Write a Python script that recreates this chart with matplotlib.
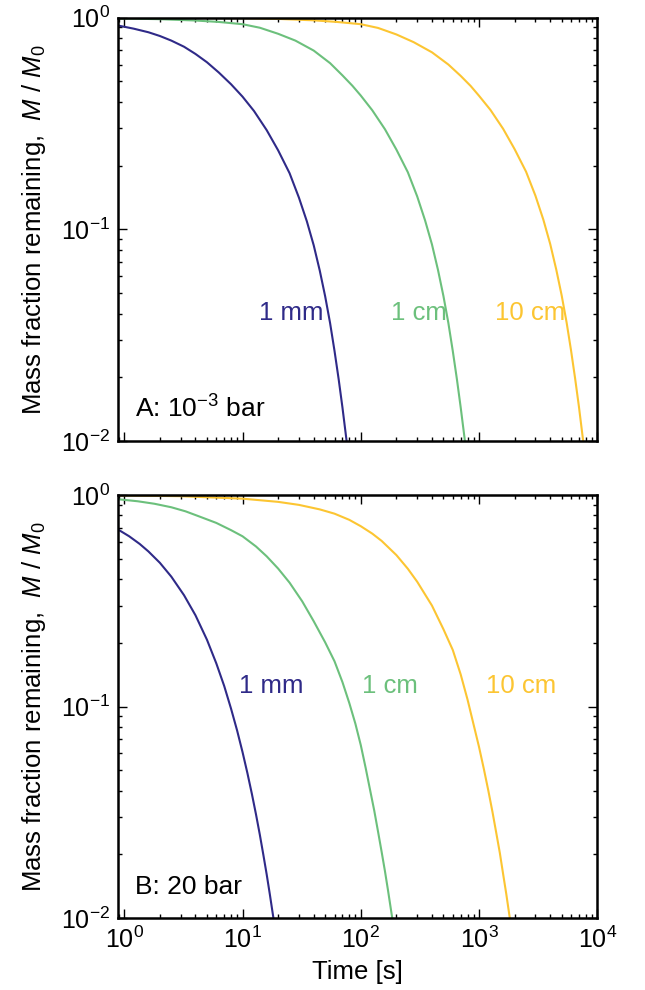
import numpy as np
import matplotlib
matplotlib.use("Agg")
import matplotlib.pyplot as plt

plt.rcParams["font.family"] = ["Liberation Sans", "DejaVu Sans"]
plt.rcParams["mathtext.fontset"] = "custom"
plt.rcParams["mathtext.rm"] = "Liberation Sans"
plt.rcParams["mathtext.it"] = "Liberation Sans:italic"
plt.rcParams["mathtext.bf"] = "Liberation Sans:bold"

BLUE = "#2f2a88"
GREEN = "#6cc07c"
YELLOW = "#fcc532"

# panel A: 1e-3 bar
t_a_mm = [0.9, 1.2, 1.6, 2.0, 2.5, 3.2, 4.0, 5.0, 6.3, 8.0, 10.0, 12.5, 16.0, 20.0, 25.0,
          30.0, 35.0, 40.0, 45.0, 50.0, 55.0, 60.0, 65.0, 70.0, 75.9]
m_a_mm = [0.915, 0.886, 0.852, 0.818, 0.778, 0.728, 0.673, 0.615, 0.550, 0.484, 0.423, 0.362,
          0.294, 0.236, 0.184, 0.141, 0.109, 0.0840, 0.0638, 0.0482, 0.0361, 0.0266, 0.0196,
          0.0144, 0.0100]

t_a_cm = [0.9, 2.0, 4.0, 6.3, 10.0, 14.0, 20.0, 28.0, 40.0, 55.0, 70.0, 85.0, 100.0, 125.0,
          160.0, 200.0, 250.0, 300.0, 350.0, 400.0, 450.0, 500.0, 550.0, 600.0, 650.0, 700.0, 760.0]
m_a_cm = [0.991, 0.982, 0.968, 0.953, 0.930, 0.895, 0.838, 0.778, 0.698, 0.609, 0.533, 0.476,
          0.428, 0.365, 0.297, 0.238, 0.186, 0.143, 0.110, 0.0848, 0.0642, 0.0484, 0.0362,
          0.0266, 0.0196, 0.0144, 0.0100]

t_a_10cm = [0.9, 10.0, 20.0, 40.0, 63.0, 100.0, 140.0, 200.0, 280.0, 400.0, 550.0, 700.0, 850.0,
            1000.0, 1250.0, 1600.0, 2000.0, 2500.0, 3000.0, 3500.0, 4000.0, 4500.0, 5000.0,
            5500.0, 6000.0, 6500.0, 7000.0, 7600.0]
m_a_10cm = [0.999, 0.993, 0.985, 0.970, 0.953, 0.930, 0.893, 0.832, 0.765, 0.685, 0.600, 0.530,
            0.475, 0.427, 0.366, 0.298, 0.239, 0.187, 0.144, 0.111, 0.0852, 0.0645, 0.0487,
            0.0364, 0.0268, 0.0197, 0.0145, 0.0100]

# panel B: 20 bar
t_b_mm = [0.9, 1.1, 1.35, 1.6, 2.0, 2.5, 3.2, 4.0, 5.0, 6.0, 7.0, 8.0, 9.0, 10.0, 11.0, 12.0,
          13.0, 14.0, 15.0, 16.0, 17.0, 18.2]
m_b_mm = [0.683, 0.638, 0.587, 0.541, 0.478, 0.411, 0.336, 0.270, 0.207, 0.160, 0.125, 0.0976,
          0.0770, 0.0609, 0.0484, 0.0386, 0.0309, 0.0248, 0.0199, 0.0161, 0.0130, 0.0101]

t_b_cm = [0.9, 1.3, 1.8, 2.5, 3.3, 4.35, 6.0, 8.0, 10.0, 13.0, 16.0, 20.0, 25.0, 32.0, 40.0,
          50.0, 60.0, 70.0, 80.0, 90.0, 100.0, 110.0, 120.0, 130.0, 140.0, 150.0, 160.0, 170.0,
          184.5]
m_b_cm = [0.954, 0.934, 0.909, 0.875, 0.837, 0.790, 0.738, 0.682, 0.638, 0.571, 0.513, 0.449,
          0.385, 0.314, 0.253, 0.201, 0.1635, 0.1304, 0.1038, 0.0830, 0.0657, 0.0512, 0.0402,
          0.0322, 0.0256, 0.0206, 0.0167, 0.0135, 0.0100]

t_b_10cm = [0.9, 3.0, 10.0, 20.0, 30.0, 45.0, 60.0, 80.0, 100.0, 125.0, 150.0, 200.0, 250.0,
            300.0, 400.0, 500.0, 600.0, 700.0, 800.0, 900.0, 1000.0, 1100.0, 1200.0, 1300.0,
            1400.0, 1500.0, 1600.0, 1700.0, 1825.0]
m_b_10cm = [0.9956, 0.987, 0.961, 0.928, 0.898, 0.855, 0.816, 0.763, 0.712, 0.657, 0.607, 0.520,
            0.448, 0.389, 0.300, 0.232, 0.185, 0.1417, 0.1077, 0.0821, 0.0644, 0.0505, 0.0399,
            0.0317, 0.0252, 0.0203, 0.0161, 0.0130, 0.0099]

size_labels = ["1 mm", "1 cm", "10 cm"]
colors = [BLUE, GREEN, YELLOW]

panels = [
    {
        "curves": [(t_a_mm, m_a_mm), (t_a_cm, m_a_cm), (t_a_10cm, m_a_10cm)],
        "label_pos": [(25.6, 0.0402), (311.0, 0.0402), (2680.0, 0.0402)],
        "tag": "A: $10^{-3}$ bar",
        "tag_y": 0.075,
    },
    {
        "curves": [(t_b_mm, m_b_mm), (t_b_cm, m_b_cm), (t_b_10cm, m_b_10cm)],
        "label_pos": [(17.4, 0.1253), (176.0, 0.1253), (2260.0, 0.1253)],
        "tag": "B: 20 bar",
        "tag_y": 0.074,
    },
]

fig = plt.figure(figsize=(6.45, 9.9), dpi=100)
ax_a = fig.add_axes([0.1834, 0.5545, 0.7426, 0.4278])
ax_b = fig.add_axes([0.1834, 0.0727, 0.7426, 0.4273])

for ax, panel in zip([ax_a, ax_b], panels):
    for (t, m), c in zip(panel["curves"], colors):
        ax.plot(t, m, color=c, lw=1.5)
    for (x, y), lab, c in zip(panel["label_pos"], size_labels, colors):
        ax.text(x, y, lab, color=c, fontsize=18.5, ha="center", va="center")
    ax.text(0.035, panel["tag_y"], panel["tag"], transform=ax.transAxes,
            fontsize=19, ha="left", va="center")

    ax.set_xscale("log")
    ax.set_yscale("log")
    ax.set_xlim(0.89, 1e4)
    ax.set_ylim(1e-2, 1)
    ax.tick_params(which="both", direction="in", top=True, right=True,
                   labelsize=18, width=1.0)
    ax.tick_params(which="major", length=6.5, pad=6)
    ax.tick_params(which="minor", length=3.2)
    for sp in ax.spines.values():
        sp.set_linewidth(1.8)
    ax.set_ylabel("Mass fraction remaining,  $M\\ /\\ M_0$", fontsize=18.5, labelpad=9)

ax_a.tick_params(labelbottom=False)
ax_b.set_xlabel("Time [s]", fontsize=18.5, labelpad=5)

fig.savefig("out.png", dpi=100)
